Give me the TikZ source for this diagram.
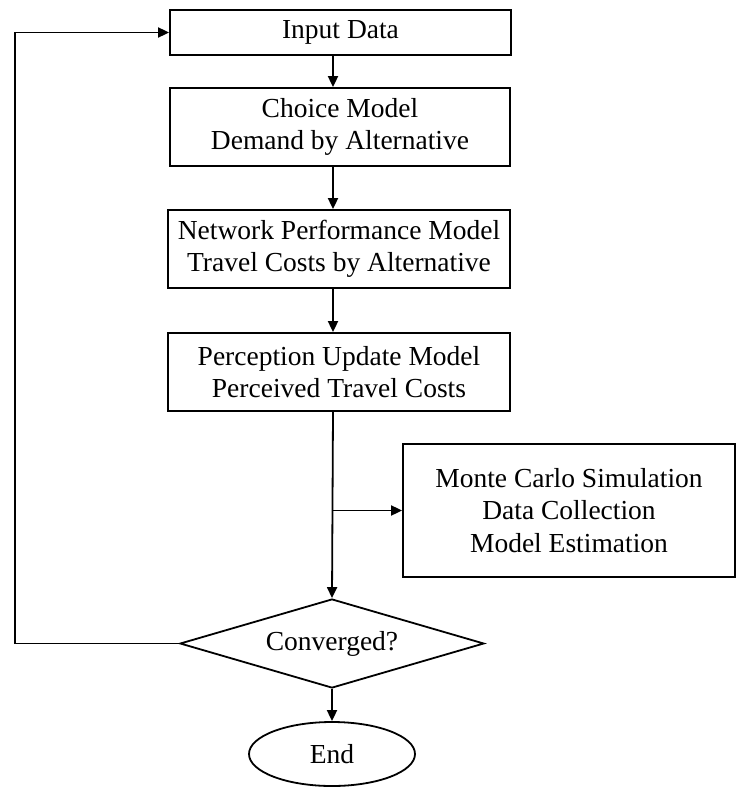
\documentclass[tikz,border=0pt]{standalone}
\usepackage{fontspec}
\setmainfont{Liberation Serif}
\usetikzlibrary{arrows.meta,shapes.geometric}
\begin{document}
\begin{tikzpicture}[x=1pt,y=-1pt,
  every node/.style={font=\fontsize{27.5}{32.5}\selectfont, align=center, inner sep=0pt},
  box/.style={draw, line width=1.8pt, rectangle},
  link/.style={line width=1.8pt, -{Triangle[length=11pt,width=10pt]}},
  decision/.style={draw, line width=1.8pt, diamond, shape aspect=3.4, inner sep=0pt, minimum width=304, minimum height=89},
  terminal/.style={draw, line width=1.8pt, ellipse, minimum width=166, minimum height=64}]
\useasboundingbox (0,0) rectangle (737,787);
\node[box, minimum width=341, minimum height=45] (inp) at (340.5,32.5) {Input Data};
\node[box, minimum width=340, minimum height=78] (choice) at (340,127) {Choice Model\\Demand by Alternative};
\node[box, minimum width=342, minimum height=78] (net) at (339,249) {Network Performance Model\\Travel Costs by Alternative};
\node[box, minimum width=342, minimum height=78] (perc) at (339,372) {Perception Update Model\\Perceived Travel Costs};
\node[box, minimum width=332, minimum height=133] (mc) at (569,510.5) {Monte Carlo Simulation\\Data Collection\\Model Estimation};
\node[decision] (conv) at (332,643.5) {Converged?};
\node[terminal] (endn) at (332,754) {End};
\coordinate (sx) at (333,0);
\coordinate (fb) at (15,0);
\coordinate (br) at (sx |- mc.west);
\draw[link] (inp.south -| sx) -- (choice.north -| sx);
\draw[link] (choice.south -| sx) -- (net.north -| sx);
\draw[link] (net.south -| sx) -- (perc.north -| sx);
\draw[link] (perc.south -| sx) -- (conv.north);
\draw[link] (br) -- (mc.west);
\draw[link] (conv.south) -- (endn.north);
\draw[link] (conv.west) -- (fb |- conv.west) -- (fb |- inp.west) -- (inp.west);
\end{tikzpicture}
\end{document}
